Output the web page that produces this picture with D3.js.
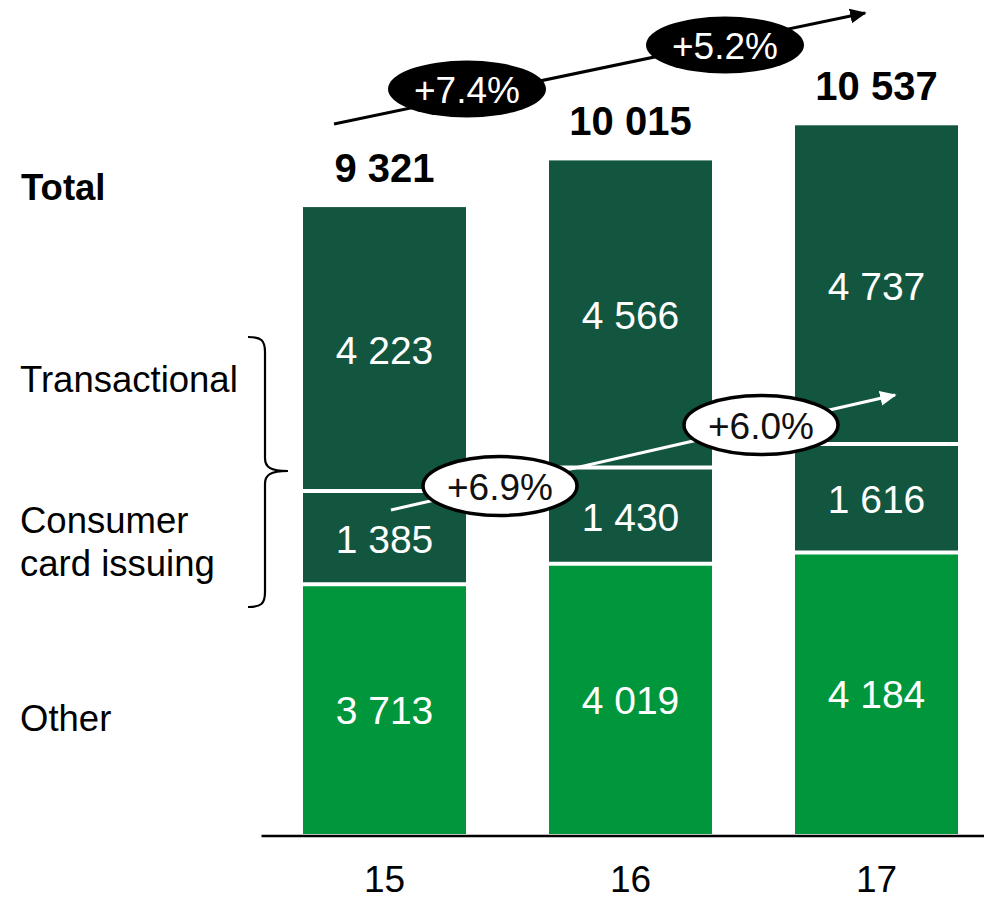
<!DOCTYPE html>
<html>
<head>
<meta charset="utf-8">
<script src="https://cdn.jsdelivr.net/npm/d3@7/dist/d3.min.js"></script>
<style>
  html, body { margin: 0; padding: 0; background: #fff; }
  svg { display: block; font-family: Arial, "Liberation Sans", Helvetica, sans-serif; }
</style>
</head>
<body>
<svg id="chart" width="984" height="901"></svg>
<script>
// Years on the x axis
const years = ["15", "16", "17"];
// Stacked series, bottom to top
const other = [3713, 4019, 4184];
const consumer = [1385, 1430, 1616];
const transactional = [4223, 4566, 4737];
// Row labels on the left
const rowLabels = ["Total", "Transactional", "Consumer", "card issuing", "Other"];

const DARK = "#13563f";
const LIGHT = "#00963b";

const svg = d3.select("#chart");

const x = d3.scaleBand()
  .domain(years)
  .range([261.5, 999.5])
  .paddingInner(0.3374)
  .paddingOuter(0.1687);

const y = d3.scaleLinear().domain([0, 12400]).range([834, 0]);

const rows = years.map((yr, i) => ({
  year: yr,
  other: other[i],
  consumer: consumer[i],
  transactional: transactional[i],
  total: other[i] + consumer[i] + transactional[i]
}));

const keys = ["other", "consumer", "transactional"];
const colors = { other: LIGHT, consumer: DARK, transactional: DARK };
const stacked = d3.stack().keys(keys)(rows);
const fmt = v => d3.format(",")(v).replace(/,/g, " ");

// Bars
const layers = svg.append("g").selectAll("g")
  .data(stacked)
  .join("g")
  .attr("fill", d => colors[d.key]);

layers.selectAll("rect")
  .data(d => d)
  .join("rect")
  .attr("x", d => x(d.data.year))
  .attr("width", x.bandwidth())
  .attr("y", d => y(d[1]))
  .attr("height", d => y(d[0]) - y(d[1]));

// White separators between stacked segments
const sep = svg.append("g").attr("stroke", "#fff").attr("stroke-width", 4);
stacked.slice(0, -1).forEach(layer => {
  layer.forEach(d => {
    sep.append("line")
      .attr("x1", x(d.data.year))
      .attr("x2", x(d.data.year) + x.bandwidth())
      .attr("y1", y(d[1]))
      .attr("y2", y(d[1]));
  });
});

// Segment values
stacked.forEach(layer => {
  svg.append("g").selectAll("text")
    .data(layer)
    .join("text")
    .attr("x", d => x(d.data.year) + x.bandwidth() / 2)
    .attr("y", d => (y(d[0]) + y(d[1])) / 2 + 15)
    .attr("text-anchor", "middle")
    .attr("fill", "#fff")
    .attr("font-size", 39)
    .text(d => fmt(d[1] - d[0]));
});

// Totals above bars
svg.append("g").selectAll("text")
  .data(rows)
  .join("text")
  .attr("x", d => x(d.year) + x.bandwidth() / 2)
  .attr("y", d => y(d.total) - 25)
  .attr("text-anchor", "middle")
  .attr("font-weight", "bold")
  .attr("font-size", 40)
  .attr("fill", "#000")
  .text(d => fmt(d.total));

// X axis
const xAxis = svg.append("g")
  .attr("transform", "translate(0,836)")
  .call(d3.axisBottom(x).tickSize(0).tickPadding(0));
xAxis.select(".domain").attr("stroke", "#000").attr("stroke-width", 2.5)
  .attr("d", "M261.5,0H984");
xAxis.selectAll("text")
  .attr("y", 56)
  .attr("dy", null)
  .attr("font-size", 37)
  .attr("fill", "#000")
  .attr("font-family", "Arial, 'Liberation Sans', sans-serif");

// Left row labels
const labelPos = [
  { t: rowLabels[0], y: 200, bold: true, x: 21 },
  { t: rowLabels[1], y: 392, x: 20 },
  { t: rowLabels[2], y: 533, x: 20 },
  { t: rowLabels[3], y: 576, x: 20 },
  { t: rowLabels[4], y: 731, x: 20 }
];
svg.append("g").selectAll("text")
  .data(labelPos)
  .join("text")
  .attr("x", d => d.x)
  .attr("y", d => d.y)
  .attr("font-size", 36.5)
  .attr("font-weight", d => d.bold ? "bold" : "normal")
  .attr("fill", "#000")
  .text(d => d.t);

// Curly brace grouping transactional and consumer card issuing
svg.append("path")
  .attr("d", "M248,337 C261,337 265,340 265,352 L265,458 C265,467 270,471 288,471 C270,471 265,475 265,484 L265,592 C265,604 261,607 248,607")
  .attr("fill", "none")
  .attr("stroke", "#000")
  .attr("stroke-width", 2.2);

// Arrow markers
const defs = svg.append("defs");
[["headBlack", "#000"], ["headWhite", "#fff"]].forEach(([id, c]) => {
  defs.append("marker")
    .attr("id", id)
    .attr("viewBox", "0 -5 10 10")
    .attr("refX", 9)
    .attr("refY", 0)
    .attr("markerWidth", 5.5)
    .attr("markerHeight", 5.5)
    .attr("markerUnits", "strokeWidth")
    .attr("orient", "auto")
    .append("path")
    .attr("d", "M0,-4.5L10,0L0,4.5Z")
    .attr("fill", c);
});

const pct = (a, b) => "+" + d3.format(".1f")((b / a - 1) * 100) + "%";
const totalGrowth = [pct(rows[0].total, rows[1].total), pct(rows[1].total, rows[2].total)];
const core = rows.map(d => d.transactional + d.consumer);
const coreGrowth = [pct(core[0], core[1]), pct(core[1], core[2])];

// Total growth arrow (black)
svg.append("line")
  .attr("x1", 334).attr("y1", 124).attr("x2", 865).attr("y2", 13)
  .attr("stroke", "#000").attr("stroke-width", 3)
  .attr("marker-end", "url(#headBlack)");

const blackBubbles = [{ cx: 467, cy: 89 }, { cx: 725, cy: 45 }];
blackBubbles.forEach((b, i) => {
  svg.append("ellipse").attr("cx", b.cx).attr("cy", b.cy)
    .attr("rx", 79).attr("ry", 28.5).attr("fill", "#000");
  svg.append("text").attr("x", b.cx).attr("y", b.cy + 13.5)
    .attr("text-anchor", "middle").attr("font-size", 37).attr("fill", "#fff")
    .text(totalGrowth[i]);
});

// Core growth arrow (white)
svg.append("line")
  .attr("x1", 391).attr("y1", 510).attr("x2", 895).attr("y2", 395)
  .attr("stroke", "#fff").attr("stroke-width", 3)
  .attr("marker-end", "url(#headWhite)");

const whiteBubbles = [{ cx: 500, cy: 486 }, { cx: 761, cy: 425 }];
whiteBubbles.forEach((b, i) => {
  svg.append("ellipse").attr("cx", b.cx).attr("cy", b.cy)
    .attr("rx", 77).attr("ry", 29.5).attr("fill", "#fff")
    .attr("stroke", "#000").attr("stroke-width", 3.5);
  svg.append("text").attr("x", b.cx).attr("y", b.cy + 13.5)
    .attr("text-anchor", "middle").attr("font-size", 37).attr("fill", "#111")
    .text(coreGrowth[i]);
});
</script>
</body>
</html>
